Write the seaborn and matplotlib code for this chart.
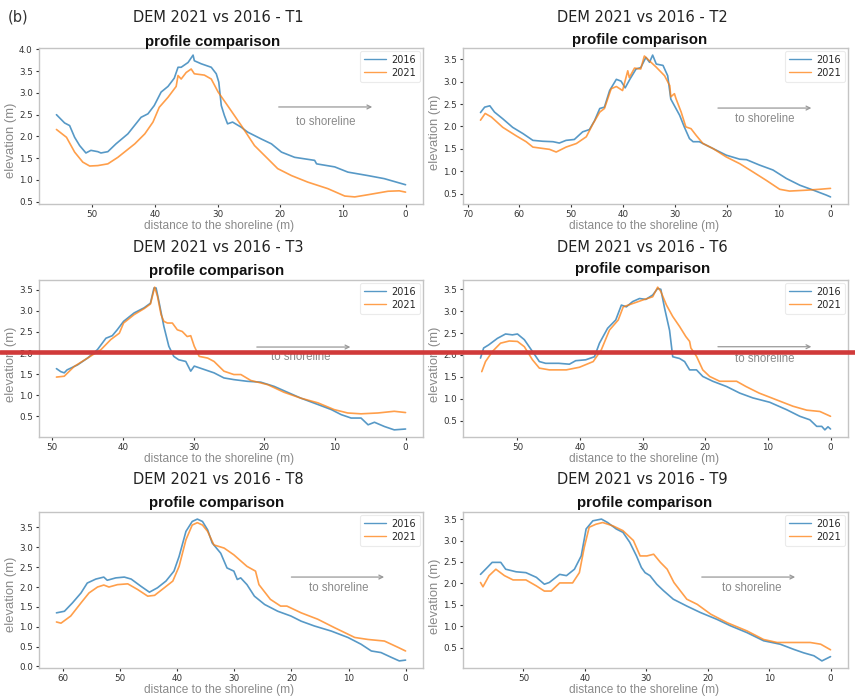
import numpy as np
import pandas as pd
import matplotlib
matplotlib.use("Agg")
import matplotlib.pyplot as plt
from matplotlib.lines import Line2D
import seaborn as sns

# ---------------- data (distance to shoreline m, elevation m) ----------------
t1_x16 = [55.7,54.4,53.6,52.8,52.0,51.0,50.2,49.1,48.6,47.5,46.2,44.3,42.2,41.1,40.1,39.0,37.9,36.9,36.3,35.8,34.7,33.9,33.7,32.6,31.0,30.2,29.8,29.4,28.9,28.4,27.6,26.2,25.2,23.0,21.4,19.8,17.7,14.5,14.2,11.3,9.2,6.0,3.4,0.0]
t1_y16 = [2.50,2.31,2.25,1.98,1.79,1.62,1.68,1.65,1.62,1.65,1.83,2.06,2.44,2.52,2.71,3.02,3.15,3.34,3.59,3.59,3.70,3.87,3.74,3.67,3.59,3.44,3.25,2.71,2.48,2.29,2.33,2.21,2.10,1.94,1.83,1.64,1.52,1.45,1.37,1.30,1.18,1.10,1.03,0.89]
t1_x21 = [55.7,54.1,52.8,51.5,50.4,49.1,47.5,45.9,43.2,41.6,40.3,39.3,37.9,36.6,36.3,35.8,35.0,34.2,33.7,32.1,31.0,29.9,28.4,26.2,24.1,22.0,20.4,18.2,15.6,12.4,9.7,8.1,6.0,2.8,1.0,0.0]
t1_y21 = [2.16,1.98,1.64,1.41,1.32,1.33,1.37,1.52,1.83,2.06,2.33,2.67,2.90,3.15,3.40,3.32,3.47,3.55,3.44,3.41,3.32,3.02,2.71,2.25,1.79,1.49,1.26,1.10,0.95,0.80,0.63,0.61,0.66,0.74,0.75,0.72]

t2_x16 = [67.5,66.7,65.7,64.8,63.2,61.3,59.3,57.4,55.5,53.5,52.3,51.0,49.4,47.8,46.5,45.5,44.5,43.6,42.6,41.3,40.4,39.6,38.7,37.5,36.6,35.6,34.9,34.3,33.6,32.3,31.4,30.8,29.1,28.2,27.2,26.5,25.3,22.7,20.1,17.5,16.2,13.7,11.1,8.5,5.9,3.3,0.8,0.0]
t2_y16 = [2.31,2.43,2.46,2.32,2.17,1.98,1.84,1.69,1.67,1.66,1.63,1.69,1.71,1.88,1.93,2.13,2.40,2.43,2.80,3.05,3.01,2.86,3.05,3.28,3.31,3.54,3.43,3.59,3.39,3.36,3.13,2.61,2.25,1.99,1.73,1.66,1.66,1.51,1.36,1.27,1.26,1.14,1.03,0.84,0.69,0.58,0.47,0.43]
t2_x21 = [67.5,66.6,65.4,63.2,60.6,58.7,57.4,55.5,54.2,52.9,51.0,49.0,47.1,45.8,44.5,43.6,42.3,41.3,40.1,39.1,38.8,37.8,36.6,35.9,34.9,33.6,32.0,31.0,30.8,30.1,29.8,28.8,27.9,26.9,25.9,24.6,22.7,20.1,17.5,15.0,12.4,9.8,7.9,4.6,2.1,0.0]
t2_y21 = [2.14,2.29,2.21,1.98,1.79,1.66,1.54,1.51,1.49,1.43,1.54,1.62,1.77,2.06,2.32,2.40,2.84,2.89,2.80,3.24,3.09,3.30,3.28,3.57,3.46,3.32,3.13,2.91,2.66,2.73,2.62,2.32,1.99,1.95,1.80,1.62,1.51,1.32,1.17,0.99,0.80,0.60,0.56,0.58,0.60,0.62]

t3_x16 = [49.4,48.8,48.3,47.9,46.4,45.0,43.6,42.4,41.5,40.8,39.9,38.4,37.0,36.1,35.6,35.3,34.9,34.2,33.5,32.8,32.1,31.1,30.4,29.9,28.5,27.1,25.7,24.3,22.4,20.5,18.6,16.7,14.8,12.4,10.5,9.1,7.7,6.3,5.3,4.4,3.0,1.6,0.0]
t3_y16 = [1.63,1.56,1.53,1.60,1.72,1.88,2.08,2.35,2.41,2.55,2.75,2.95,3.07,3.18,3.54,3.54,3.22,2.63,2.16,1.92,1.84,1.80,1.57,1.69,1.61,1.53,1.41,1.37,1.33,1.31,1.21,1.07,0.93,0.78,0.66,0.54,0.46,0.46,0.30,0.36,0.26,0.18,0.20]
t3_x21 = [49.4,48.3,46.9,45.0,43.1,41.7,40.5,39.9,38.4,37.0,36.1,35.5,35.1,34.6,34.2,33.7,33.0,32.3,31.6,30.9,30.4,29.9,29.2,28.0,27.1,25.7,24.3,23.3,21.9,19.5,17.2,14.8,12.4,10.1,8.2,6.3,3.9,1.6,0.0]
t3_y21 = [1.43,1.45,1.68,1.88,2.08,2.32,2.47,2.71,2.91,3.05,3.16,3.56,3.34,2.91,2.75,2.71,2.71,2.55,2.51,2.39,2.41,2.16,1.92,1.88,1.80,1.57,1.49,1.49,1.35,1.25,1.07,0.93,0.82,0.66,0.58,0.56,0.58,0.62,0.59]

t6_x16 = [55.9,55.4,54.6,53.2,51.9,50.8,50.0,48.9,47.6,46.5,45.5,43.4,41.7,40.7,39.1,37.7,36.9,35.6,34.3,33.4,32.6,31.6,30.5,29.5,28.4,27.6,27.1,26.5,25.7,25.2,24.1,23.3,22.5,21.4,20.4,18.8,16.6,14.5,12.4,9.7,7.0,4.9,3.3,2.2,1.4,0.9,0.4,0.0]
t6_y16 = [1.93,2.16,2.23,2.38,2.48,2.46,2.48,2.35,2.08,1.85,1.81,1.81,1.79,1.87,1.89,1.96,2.27,2.61,2.80,3.14,3.10,3.22,3.29,3.27,3.37,3.52,3.50,3.07,2.56,1.96,1.92,1.85,1.66,1.66,1.51,1.40,1.28,1.13,1.02,0.92,0.75,0.60,0.52,0.37,0.37,0.29,0.36,0.31]
t6_x21 = [55.7,55.1,54.0,52.7,51.3,50.0,48.9,47.6,46.5,44.9,42.2,40.1,37.9,36.6,35.3,33.9,33.1,31.5,29.9,28.4,27.6,27.1,26.2,25.2,24.1,23.1,22.5,22.3,21.4,20.4,19.3,17.7,15.0,13.5,11.4,8.7,6.0,3.8,1.7,0.0]
t6_y21 = [1.62,1.85,2.08,2.27,2.32,2.31,2.19,1.89,1.70,1.66,1.66,1.72,1.85,2.12,2.57,2.80,3.10,3.18,3.26,3.33,3.55,3.45,3.14,2.88,2.65,2.42,2.31,2.16,1.97,1.66,1.51,1.40,1.40,1.28,1.13,0.98,0.83,0.74,0.71,0.60]

t8_x16 = [61.2,59.8,58.4,56.9,55.8,54.3,52.9,52.3,50.8,49.3,48.1,46.4,44.9,43.5,42.0,40.6,39.7,38.5,37.4,36.5,35.6,34.7,33.9,32.4,31.3,30.1,29.5,28.9,27.8,26.5,24.7,22.4,20.1,18.3,16.0,13.0,10.1,7.8,6.0,4.3,2.5,1.1,0.0]
t8_y16 = [1.35,1.39,1.60,1.85,2.10,2.20,2.25,2.17,2.23,2.25,2.20,2.02,1.87,1.98,2.15,2.40,2.77,3.40,3.65,3.71,3.65,3.44,3.11,2.85,2.48,2.40,2.19,2.23,2.06,1.77,1.56,1.39,1.27,1.14,1.02,0.89,0.73,0.56,0.39,0.35,0.23,0.14,0.16]
t8_x21 = [61.2,60.4,58.7,56.9,55.5,54.0,52.9,52.0,50.5,48.7,47.0,45.2,44.0,42.3,40.8,39.7,38.5,37.4,36.5,35.6,34.7,33.6,31.8,30.1,27.8,26.3,25.7,23.7,21.9,20.8,18.3,15.4,12.5,8.9,6.6,3.7,1.3,0.0]
t8_y21 = [1.12,1.09,1.27,1.60,1.85,2.00,2.05,2.00,2.06,2.08,1.94,1.77,1.79,1.98,2.15,2.52,3.19,3.56,3.62,3.56,3.40,3.06,2.98,2.81,2.52,2.40,2.06,1.69,1.52,1.52,1.35,1.19,0.98,0.73,0.68,0.64,0.48,0.39]

t9_x16 = [57.0,55.9,55.1,53.7,52.9,51.2,49.6,47.9,46.6,45.8,44.1,43.0,41.7,40.6,39.8,38.7,37.3,36.3,34.9,33.8,32.7,31.6,30.8,30.2,29.4,28.3,27.2,25.6,23.4,21.2,18.5,16.3,13.6,10.9,8.2,6.0,4.4,2.7,1.4,0.0]
t9_y16 = [2.21,2.37,2.49,2.49,2.33,2.27,2.25,2.14,1.98,2.02,2.21,2.18,2.33,2.64,3.27,3.46,3.50,3.42,3.27,3.19,2.96,2.64,2.37,2.25,2.18,1.98,1.83,1.63,1.47,1.32,1.16,1.01,0.85,0.66,0.58,0.46,0.38,0.31,0.19,0.29]
t9_x21 = [57.0,56.6,55.6,54.5,53.1,51.7,49.6,47.9,46.6,45.5,44.1,42.0,40.9,40.1,39.3,38.2,37.1,35.4,33.8,32.1,31.0,29.9,28.8,27.7,26.6,25.5,23.4,21.7,19.5,16.8,13.6,10.9,8.7,6.0,3.3,1.6,0.0]
t9_y21 = [2.02,1.92,2.18,2.33,2.18,2.08,2.08,1.94,1.82,1.82,2.01,2.01,2.25,2.84,3.31,3.38,3.42,3.34,3.23,3.00,2.64,2.64,2.68,2.49,2.33,2.02,1.63,1.51,1.28,1.08,0.89,0.69,0.62,0.62,0.62,0.58,0.45]

panel_names = ["T1", "T2", "T3", "T6", "T8", "T9"]
panel_data = [
    (t1_x16, t1_y16, t1_x21, t1_y21),
    (t2_x16, t2_y16, t2_x21, t2_y21),
    (t3_x16, t3_y16, t3_x21, t3_y21),
    (t6_x16, t6_y16, t6_x21, t6_y21),
    (t8_x16, t8_y16, t8_x21, t8_y21),
    (t9_x16, t9_y16, t9_x21, t9_y21),
]
years = ["2016", "2021"]

# ---------------- style ----------------
sns.set_style("white")
plt.rcParams["font.family"] = ["DejaVu Sans"]
plt.rcParams["axes.edgecolor"] = "#c4c4c4"
plt.rcParams["axes.linewidth"] = 1.0

fig = plt.figure(figsize=(8.55, 6.98), dpi=100)
W, H = 855.0, 698.0

# axes rectangles in pixels (left, top, right, bottom)
rects = [
    (39, 48, 423, 204), (463, 48, 848, 204),
    (39, 280, 423, 437), (463, 280, 848, 437),
    (39, 512, 423, 668), (463, 512, 848, 668),
]
title_pos = [(218, 17), (642, 17), (218, 247), (642, 247), (218, 479), (642, 479)]
sub_pos = [(213, 42), (640, 40), (217, 271), (643, 269), (217, 503), (645, 503)]
arrow_pos = [  # x0, x1, y_arrow, text_x, text_y (axes fraction)
    (0.617, 0.875, 0.622, 0.747, 0.526),
    (0.655, 0.912, 0.615, 0.784, 0.545),
    (0.560, 0.818, 0.573, 0.682, 0.510),
    (0.655, 0.912, 0.575, 0.784, 0.497),
    (0.650, 0.906, 0.583, 0.780, 0.513),
    (0.613, 0.870, 0.583, 0.750, 0.513),
]
ylab_y = [0.41, 0.46, 0.46, 0.46, 0.47, 0.46]
palette = {"2016": "#1f77b4", "2021": "#ff7f0e"}

for i, (name, (x16, y16, x21, y21)) in enumerate(zip(panel_names, panel_data)):
    l, t, r, b = rects[i]
    ax = fig.add_axes([l / W, 1 - b / H, (r - l) / W, (b - t) / H])
    df = pd.DataFrame({
        "dist": list(x16) + list(x21),
        "elev": list(y16) + list(y21),
        "year": ["2016"] * len(x16) + ["2021"] * len(x21),
    })
    sns.lineplot(data=df, x="dist", y="elev", hue="year", hue_order=years,
                 palette=palette, ax=ax, linewidth=1.2, alpha=0.75,
                 estimator=None, sort=True)
    ax.invert_xaxis()
    ax.tick_params(axis="both", which="both", labelsize=6.3, colors="#333333",
                   length=2.5, width=0.8, pad=2, bottom=True, left=True)
    for sp in ax.spines.values():
        sp.set_color("#c4c4c4")
    ax.set_xlabel("distance to the shoreline (m)", family="Liberation Sans",
                  fontsize=8.6, color="#8a8a8a")
    ax.set_ylabel("elevation (m)", family="Liberation Sans", fontsize=9.4,
                  color="#8a8a8a")
    ax.xaxis.set_label_coords(0.47, -0.105)
    ax.yaxis.set_label_coords(-0.058, ylab_y[i])
    leg = ax.legend(loc="upper right", fontsize=7, frameon=True,
                    handlelength=2.2, borderpad=0.4, labelspacing=0.3,
                    handletextpad=0.6, borderaxespad=0.3)
    leg.get_frame().set_edgecolor("#e6e6e6")
    leg.get_frame().set_linewidth(0.8)
    for h in leg.get_lines():
        h.set_linewidth(1.0)
    x0, x1, ya, tx, ty = arrow_pos[i]
    ax.annotate("", xy=(x1, ya), xytext=(x0, ya), xycoords="axes fraction",
                arrowprops=dict(arrowstyle="->", color="#999999", lw=0.9,
                                mutation_scale=7))
    ax.text(tx, ty, "to shoreline", transform=ax.transAxes, ha="center",
            va="center", family="Liberation Sans", fontsize=8.3, color="#8a8a8a")
    # titles
    tx_, ty_ = title_pos[i]
    fig.text(tx_ / W, 1 - ty_ / H, "DEM 2021 vs 2016 - " + name, ha="center",
             va="center", fontsize=10.5, color="#222222")
    sx, sy = sub_pos[i]
    fig.text(sx / W, 1 - sy / H, "profile comparison", ha="center", va="center",
             family="Liberation Sans", fontweight="bold", fontsize=10.8,
             color="#111111")

fig.text(8 / W, 1 - 17 / H, "(b)", ha="left", va="center", fontsize=10.5,
         color="#333333")

# red horizontal marker line across the whole figure
fig.add_artist(Line2D([0, 1], [1 - 351.7 / H, 1 - 351.7 / H],
                      transform=fig.transFigure, color="#d03a3a", linewidth=3.3))

fig.savefig("out.png", dpi=100)
